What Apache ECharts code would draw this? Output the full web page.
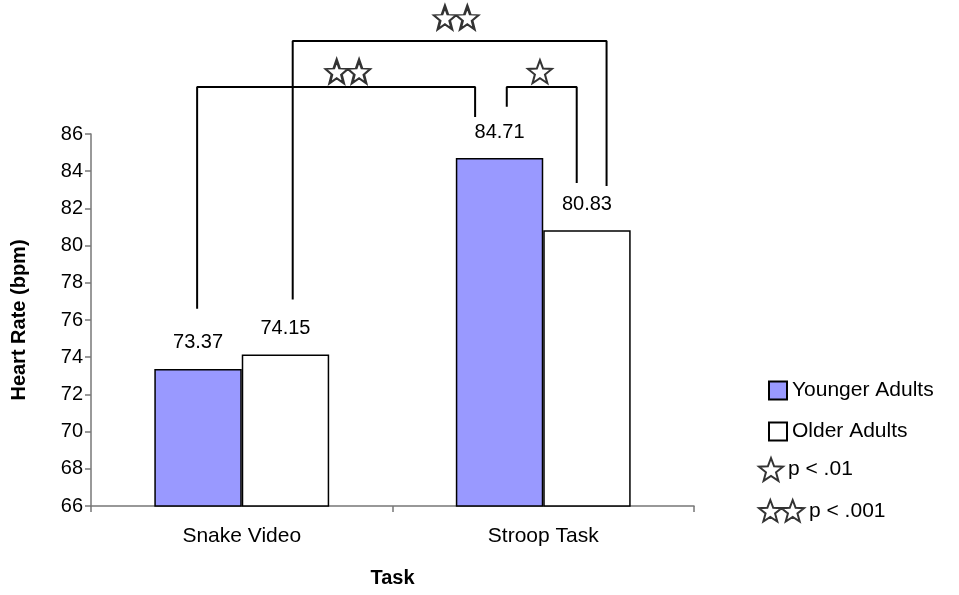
<!DOCTYPE html>
<html><head><meta charset="utf-8">
<script src="https://cdn.jsdelivr.net/npm/echarts@6/dist/echarts.min.js"></script>
<style>html,body{margin:0;padding:0;background:#fff}#c{width:959px;height:595px}</style>
</head><body><div id="c"></div>
<script>
// ---- data ----
const categories = ['Snake Video', 'Stroop Task'];
const seriesNames = ['Younger Adults', 'Older Adults'];
const youngerValues = [73.37, 84.71];
const olderValues = [74.15, 80.83];
const yTicks = { min: 66, max: 86, step: 2 };
// significance brackets: [x (category units, 0..2), y (bpm)]
const bracketYoungYoung = [[0.352, 76.6], [0.352, 88.53], [1.274, 88.53], [1.274, 86.92]];
const bracketSnakeOldStroop = [[0.669, 77.1], [0.669, 91.0], [1.710, 91.0], [1.710, 83.2]];
const bracketStroopYoungOld = [[1.379, 87.46], [1.379, 88.53], [1.611, 88.53], [1.611, 83.36]];
const starP01 = [[1.489, 89.35]];
const starP001 = [[0.852, 89.35], [1.211, 92.25]];
const legendStarNames = ['p < .01', 'p < .001'];

// ---- star path helpers ----
function starPts(cx, cy, R) {
  const r = R * 0.42, pts = [];
  for (let i = 0; i < 10; i++) {
    const a = -Math.PI / 2 + i * Math.PI / 5, rr = i % 2 ? r : R;
    pts.push([cx + rr * Math.cos(a), cy + rr * Math.sin(a)]);
  }
  return 'M' + pts.map(p => p[0].toFixed(2) + ' ' + p[1].toFixed(2)).join(' L') + ' Z';
}
const oneStar = 'path://' + starPts(12, 12, 12);
const twoStar = 'path://' + starPts(11.4, 12, 12) + ' ' + starPts(34.0, 12, 12);

const font = '"Liberation Sans", Arial, sans-serif';
const FS = 20;
const chart = echarts.init(document.getElementById('c'));
const bracketStyle = { color: '#000', width: 2 };
function bracket(d) {
  return { type: 'line', xAxisIndex: 1, yAxisIndex: 0, data: d, clip: false, symbol: 'none',
    lineStyle: bracketStyle, silent: true, z: 5, animation: false };
}
const legendText = { fontSize: 21, color: '#000', fontFamily: font };
chart.setOption({
  animation: false,
  textStyle: { fontFamily: font },
  grid: { left: 91, right: 265, top: 134, bottom: 89 },
  legend: [
    { data: seriesNames.map(n => ({ name: n, icon: 'rect' })), orient: 'vertical', left: 763, top: 375,
      itemWidth: 18, itemHeight: 18, itemGap: 20, selectedMode: false, textStyle: legendText },
    { data: [{ name: legendStarNames[0], icon: oneStar }], left: 753, top: 452, itemWidth: 24, itemHeight: 23,
      selectedMode: false, textStyle: legendText },
    { data: [{ name: legendStarNames[1], icon: twoStar }], left: 753, top: 494, itemWidth: 45, itemHeight: 23,
      selectedMode: false, textStyle: legendText }
  ],
  xAxis: [
    { type: 'category', data: categories,
      axisLine: { lineStyle: { color: '#777', width: 1.5 } },
      axisTick: { show: true, length: 6, lineStyle: { color: '#777', width: 1.5 } },
      axisLabel: { color: '#000', fontSize: 21, margin: 20, fontFamily: font },
      name: 'Task', nameLocation: 'middle', nameGap: 62,
      nameTextStyle: { fontSize: FS, fontWeight: 'bold', color: '#000', fontFamily: font } },
    { type: 'value', min: 0, max: 2, show: false }
  ],
  yAxis: [
    { type: 'value', min: yTicks.min, max: yTicks.max, interval: yTicks.step,
      axisLine: { show: true, lineStyle: { color: '#777', width: 1.5 } },
      axisTick: { show: true, length: 6, lineStyle: { color: '#777', width: 1.5 } },
      splitLine: { show: false },
      axisLabel: { color: '#000', fontSize: FS, margin: 8, fontFamily: font },
      name: 'Heart Rate (bpm)', nameLocation: 'middle', nameGap: 62,
      nameTextStyle: { fontSize: FS, fontWeight: 'bold', color: '#000', fontFamily: font } }
  ],
  series: [
    { name: seriesNames[0], type: 'bar', data: youngerValues, barWidth: '29%', barGap: '0%',
      itemStyle: { color: '#9999FF', borderColor: '#000', borderWidth: 1.5 },
      label: { show: true, position: 'top', distance: 16, fontSize: FS, color: '#000', fontFamily: font } },
    { name: seriesNames[1], type: 'bar', data: olderValues, barWidth: '29%', barGap: '0%',
      itemStyle: { color: '#FFFFFF', borderColor: '#000', borderWidth: 1.5 },
      label: { show: true, position: 'top', distance: 16, fontSize: FS, color: '#000', fontFamily: font } },
    bracket(bracketYoungYoung),
    bracket(bracketSnakeOldStroop),
    bracket(bracketStroopYoungOld),
    { name: legendStarNames[0], type: 'scatter', xAxisIndex: 1, data: starP01, clip: false,
      symbol: oneStar, symbolSize: [24, 23], itemStyle: { color: '#fff', borderColor: '#000', borderWidth: 2 }, z: 6 },
    { name: legendStarNames[1], type: 'scatter', xAxisIndex: 1, data: starP001, clip: false,
      symbol: twoStar, symbolSize: [45, 23], itemStyle: { color: '#fff', borderColor: '#000', borderWidth: 2 }, z: 6 }
  ]
});
</script></body></html>
